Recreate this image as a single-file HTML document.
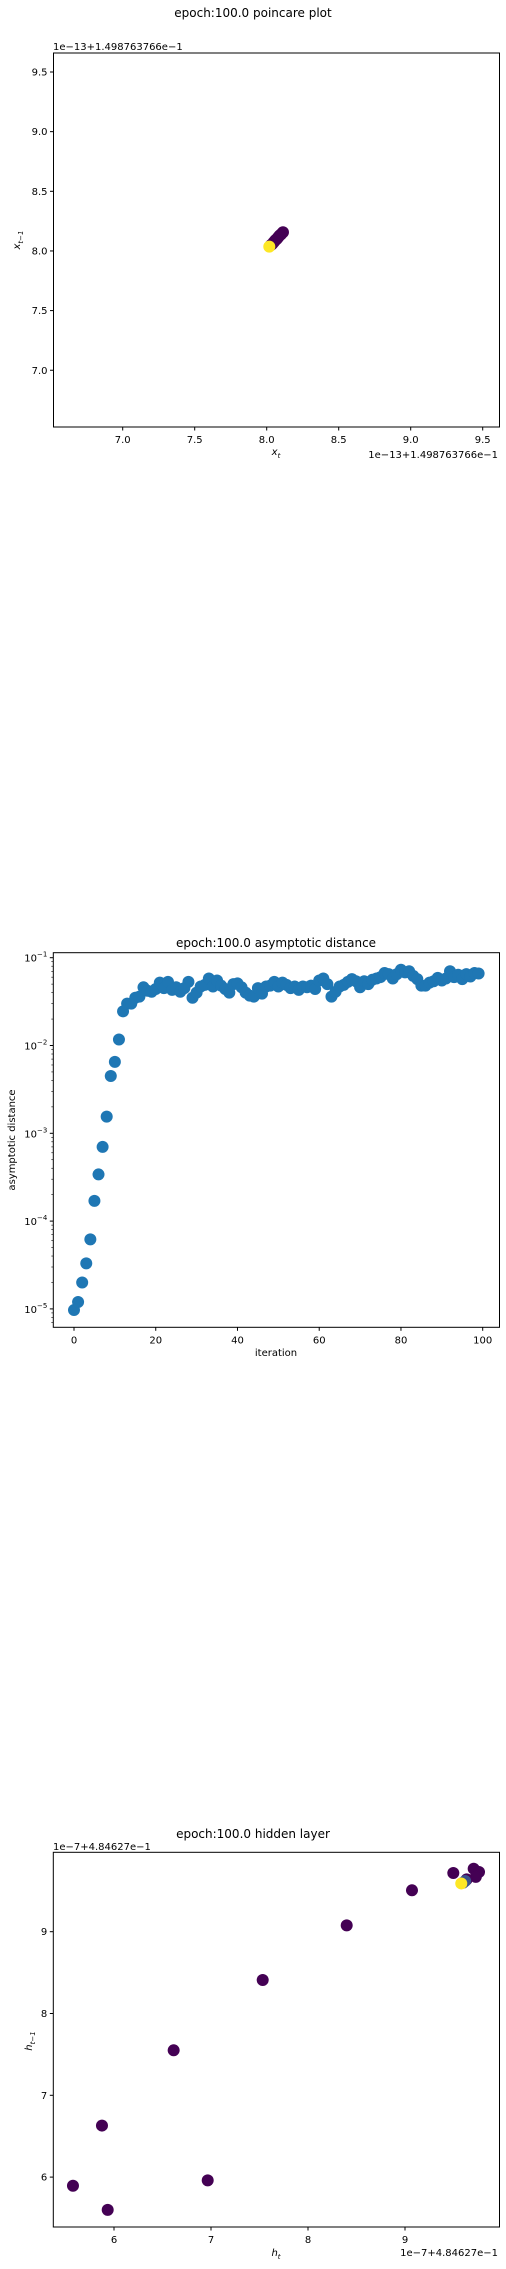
<!DOCTYPE html>
<html><head><meta charset="utf-8"><style>
body{margin:0;background:#fff;}
svg{display:block;font-family:"DejaVu Sans","Liberation Sans",sans-serif;}
text{fill:#000;}
</style></head><body>
<svg id="s" width="506" height="2269">
</svg>
<script>
// Chart 1 data: poincare
const p1x=[8.113,8.10,8.09,8.08,8.07,8.06,8.05,8.04,8.03,8.018];
const p1y=[8.157,8.14,8.13,8.115,8.10,8.09,8.075,8.06,8.05,8.036];
const p1ticks=[7.0,7.5,8.0,8.5,9.0,9.5];
// Chart 2 data: asymptotic distance
const adist=[9.7e-6,1.2e-5,2.0e-5,3.3e-5,6.2e-5,1.7e-4,3.4e-4,7e-4,1.55e-3,4.5e-3,6.5e-3,1.17e-2,0.0245,0.030,0.030,0.035,0.036,0.046,0.042,0.041,0.044,0.052,0.045,0.053,0.043,0.046,0.041,0.045,0.053,0.035,0.040,0.047,0.049,0.058,0.047,0.055,0.048,0.044,0.040,0.050,0.051,0.046,0.040,0.037,0.036,0.045,0.039,0.047,0.048,0.053,0.047,0.052,0.049,0.045,0.047,0.043,0.047,0.046,0.048,0.044,0.055,0.058,0.050,0.036,0.041,0.047,0.049,0.053,0.057,0.054,0.046,0.054,0.050,0.056,0.058,0.060,0.067,0.065,0.058,0.065,0.073,0.068,0.070,0.062,0.057,0.048,0.048,0.052,0.054,0.059,0.055,0.058,0.070,0.060,0.064,0.057,0.065,0.061,0.067,0.066];
const adXticks=[0,20,40,60,80,100];
const adYexp=[-5,-4,-3,-2,-1];
// Chart 3 data: hidden layer
const hx=[5.577,5.935,5.876,6.966,6.615,7.533,8.399,9.072,9.498,9.708,9.763,9.73,9.636,9.62,9.60,9.58];
const hy=[5.894,5.60,6.63,5.96,7.55,8.41,9.077,9.506,9.717,9.77,9.73,9.67,9.64,9.62,9.60,9.59];
const hxticks=[6,7,8,9];
const hyticks=[6,7,8,9];

const NS='http://www.w3.org/2000/svg';
const svg=document.getElementById('s');
function el(tag,attrs,parent){const e=document.createElementNS(NS,tag);for(const k in attrs)e.setAttribute(k,attrs[k]);(parent||svg).appendChild(e);return e;}
function txt(s,x,y,size,anchor,parent){const t=el('text',{x:x,y:y,'font-size':size,'text-anchor':anchor||'middle'},parent);t.textContent=s;return t;}
function subLabel(base,sub,attrs,parent){const t=el('text',Object.assign({'font-size':10,'font-style':'italic','text-anchor':'middle'},attrs),parent);
 const a=el('tspan',{},t);a.textContent=base;const b=el('tspan',{dy:3,'font-size':7},t);b.textContent=sub;return t;}
function vcol(i,n){if(i===n-1)return '#fde725';const t=i/(n-1);if(t<0.85)return '#440154';return t<0.95?'#3b528b':'#21918c';}

// ---------- Chart 1 ----------
{
const g=el('g',{});


const L=53.5,R=499.5,T=53,B=427;
const sx=v=>122.7+(v-7)*144, sy=v=>72+(9.5-v)*119.3;
const t=txt('epoch:100.0 poincare plot',253,17,12,'middle',g);

p1x.forEach((v,i)=>{const c=el('circle',{cx:sx(v),cy:sy(p1y[i]),r:6,fill:i===p1x.length-1?'#fde725':'#440154'},g);
});
const fr=el('rect',{x:L,y:T,width:R-L,height:B-T,fill:'none',stroke:'#000','stroke-width':1},g);

p1ticks.forEach(v=>{
 el('line',{x1:sx(v),x2:sx(v),y1:B,y2:B+3.5,stroke:'#000'},g);
 const a=txt(v.toFixed(1),sx(v),B+16,10,'middle',g);
 el('line',{x1:L-3.5,x2:L,y1:sy(v),y2:sy(v),stroke:'#000'},g);
 const b=txt(v.toFixed(1),L-6,sy(v)+3.5,10,'end',g);
});
const o1=txt('1e\u221213+1.498763766e\u22121',53,50,10,'start',g);
const o2=txt('1e\u221213+1.498763766e\u22121',498,458,10,'end',g);
const xl=subLabel('x','t',{x:276,y:455},g);

const yl=subLabel('x','t\u22121',{x:0,y:0,transform:'translate(20,240) rotate(-90)'},g);

}

// ---------- Chart 2 ----------
{
const g=el('g',{});


const L=53.3,R=499.5,T=952.7,B=1327.3;
const sx=v=>74+v*4.087, sy=v=>957.7+(-1-Math.log10(v))*87.8;
const t=txt('epoch:100.0 asymptotic distance',276,947,12,'middle',g);

adist.forEach((v,i)=>{const c=el('circle',{cx:sx(i),cy:sy(v),r:6,fill:'#1f77b4'},g);
});
const fr=el('rect',{x:L,y:T,width:R-L,height:B-T,fill:'none',stroke:'#000'},g);

adXticks.forEach(v=>{el('line',{x1:sx(v),x2:sx(v),y1:B,y2:B+3.5,stroke:'#000'},g);
 const a=txt(String(v),sx(v),B+16,10,'middle',g);});
adYexp.forEach(e=>{const y=sy(Math.pow(10,e));el('line',{x1:L-3.5,x2:L,y1:y,y2:y,stroke:'#000'},g);
 const a=el('text',{x:L-6,y:y+4,'font-size':10,'text-anchor':'end'},g);a.textContent='10';
 const sp=el('tspan',{dy:-5,'font-size':7},a);sp.textContent='\u2212'+(-e);
 
 for(let m=2;m<10;m++){const v=m*Math.pow(10,e);const yy=sy(v);if(yy>T&&yy<B)el('line',{x1:L-2,x2:L,y1:yy,y2:yy,stroke:'#000','stroke-width':0.6},g);}
});
for(let m=6;m<10;m++){const yy=sy(m*1e-6);if(yy<B)el('line',{x1:L-2,x2:L,y1:yy,y2:yy,stroke:'#000','stroke-width':0.6},g);}
const xl=txt('iteration',276,1356,10,'middle',g);
const yl=el('text',{x:0,y:0,'font-size':10,'text-anchor':'middle',transform:'translate(15,1140) rotate(-90)'},g);yl.textContent='asymptotic distance';

}

// ---------- Chart 3 ----------
{
const g=el('g',{});


const L=53.3,R=499.5,T=1852.3,B=2227;
const sx=v=>114+(v-6)*97, sy=v=>1931.7+(9-v)*81.8;
const t=txt('epoch:100.0 hidden layer',253,1838,12,'middle',g);

hx.forEach((v,i)=>{const c=el('circle',{cx:sx(v),cy:sy(hy[i]),r:6,fill:vcol(i,hx.length)},g);
});
const fr=el('rect',{x:L,y:T,width:R-L,height:B-T,fill:'none',stroke:'#000'},g);

hxticks.forEach(v=>{el('line',{x1:sx(v),x2:sx(v),y1:B,y2:B+3.5,stroke:'#000'},g);
 const a=txt(String(v),sx(v),B+16,10,'middle',g);});
hyticks.forEach(v=>{el('line',{x1:L-3.5,x2:L,y1:sy(v),y2:sy(v),stroke:'#000'},g);
 const a=txt(String(v),L-6,sy(v)+3.5,10,'end',g);});
const o1=txt('1e\u22127+4.84627e\u22121',53,1850,10,'start',g);
const o2=txt('1e\u22127+4.84627e\u22121',498,2256,10,'end',g);
const xl=subLabel('h','t',{x:276,y:2256},g);

const yl=subLabel('h','t\u22121',{x:0,y:0,transform:'translate(32,2041) rotate(-90)'},g);

}
</script>
</body></html>
